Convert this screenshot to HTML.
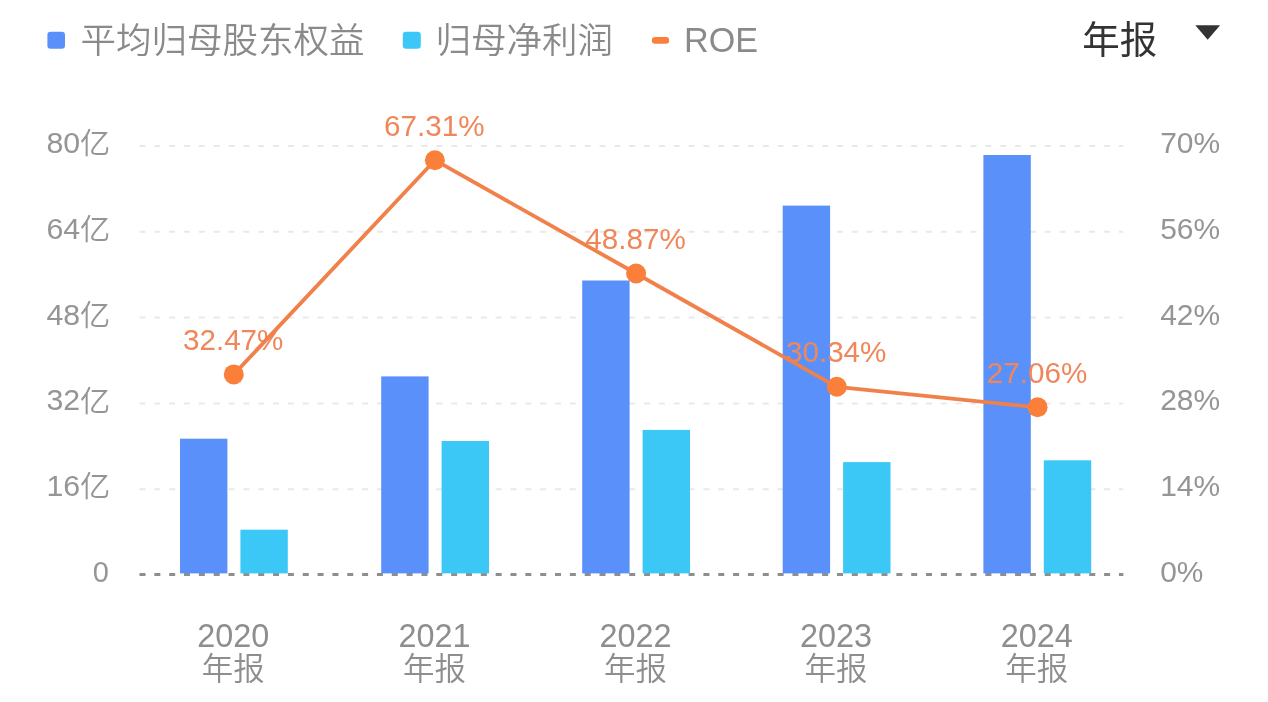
<!DOCTYPE html>
<html lang="zh-CN">
<head>
<meta charset="utf-8">
<title>ROE</title>
<style>
html,body{margin:0;padding:0;background:#fff;}
body{width:1268px;height:702px;overflow:hidden;font-family:"Liberation Sans","Noto Sans CJK SC",sans-serif;}
svg{display:block;}
text{font-family:"Liberation Sans","Noto Sans CJK SC",sans-serif;}
.lg{font-size:35.5px;fill:#8a8a8a;font-weight:350;}
.ax{font-size:29px;fill:#959595;font-weight:350;}
.yi{font-size:29px;}
.xl{font-size:32.4px;fill:#8e8e8e;font-weight:350;}
.vl{font-size:29px;fill:#f0875a;}
.sel{font-size:37.5px;fill:#333;font-weight:400;}
</style>
</head>
<body>
<svg width="1268" height="702" viewBox="0 0 1268 702">
<rect x="0" y="0" width="1268" height="702" fill="#ffffff"/>

<rect x="47.4" y="31.8" width="17.6" height="17" rx="3.2" fill="#5a90fa"/>
<text class="lg" x="80.5" y="52.5">平均归母股东权益</text>
<rect x="402.8" y="31.8" width="18" height="17" rx="3.2" fill="#3cc8f7"/>
<text class="lg" x="435.5" y="52.5">归母净利润</text>
<rect x="651.8" y="37.1" width="17.4" height="6.6" rx="3.3" fill="#fa7f3b"/>
<text class="lg" x="684" y="52.3" style="font-size:35px" textLength="74" lengthAdjust="spacingAndGlyphs">ROE</text>
<text class="sel" x="1082.2" y="52.5">年报</text>
<path d="M1195.3 25.2 L1220.1 25.2 L1207.7 39.7 Z" fill="#333"/>
<line x1="139.5" y1="146.0" x2="1123.2" y2="146.0" stroke="#e9e9e9" stroke-width="2" stroke-dasharray="6 8.84"/>
<line x1="139.5" y1="231.8" x2="1123.2" y2="231.8" stroke="#e9e9e9" stroke-width="2" stroke-dasharray="6 8.84"/>
<line x1="139.5" y1="317.6" x2="1123.2" y2="317.6" stroke="#e9e9e9" stroke-width="2" stroke-dasharray="6 8.84"/>
<line x1="139.5" y1="403.4" x2="1123.2" y2="403.4" stroke="#e9e9e9" stroke-width="2" stroke-dasharray="6 8.84"/>
<line x1="139.5" y1="489.2" x2="1123.2" y2="489.2" stroke="#e9e9e9" stroke-width="2" stroke-dasharray="6 8.84"/>
<text class="ax" x="110.4" y="153.0" text-anchor="end" textLength="64" lengthAdjust="spacingAndGlyphs">80<tspan class="yi" dy="1.2">亿</tspan></text>
<text class="ax" x="1160.2" y="153.0" textLength="60" lengthAdjust="spacingAndGlyphs">70%</text>
<text class="ax" x="110.4" y="238.8" text-anchor="end" textLength="64" lengthAdjust="spacingAndGlyphs">64<tspan class="yi" dy="1.2">亿</tspan></text>
<text class="ax" x="1160.2" y="238.8" textLength="60" lengthAdjust="spacingAndGlyphs">56%</text>
<text class="ax" x="110.4" y="324.6" text-anchor="end" textLength="64" lengthAdjust="spacingAndGlyphs">48<tspan class="yi" dy="1.2">亿</tspan></text>
<text class="ax" x="1160.2" y="324.6" textLength="60" lengthAdjust="spacingAndGlyphs">42%</text>
<text class="ax" x="110.4" y="410.4" text-anchor="end" textLength="64" lengthAdjust="spacingAndGlyphs">32<tspan class="yi" dy="1.2">亿</tspan></text>
<text class="ax" x="1160.2" y="410.4" textLength="60" lengthAdjust="spacingAndGlyphs">28%</text>
<text class="ax" x="110.4" y="496.2" text-anchor="end" textLength="64" lengthAdjust="spacingAndGlyphs">16<tspan class="yi" dy="1.2">亿</tspan></text>
<text class="ax" x="1160.2" y="496.2" textLength="60" lengthAdjust="spacingAndGlyphs">14%</text>
<text class="ax" x="109" y="582.2" text-anchor="end">0</text>
<text class="ax" x="1160.2" y="582.0" textLength="43.2" lengthAdjust="spacingAndGlyphs">0%</text>
<line x1="139.5" y1="574.6" x2="1123.4" y2="574.6" stroke="#8e8e8e" stroke-width="3" stroke-dasharray="6 8.84"/>
<rect x="180.0" y="438.7" width="47.4" height="134.7" fill="#5a90fa"/>
<rect x="240.4" y="529.7" width="47.4" height="43.7" fill="#3cc8f7"/>
<rect x="381.2" y="376.4" width="47.4" height="197.0" fill="#5a90fa"/>
<rect x="441.6" y="441.0" width="47.4" height="132.4" fill="#3cc8f7"/>
<rect x="582.2" y="280.5" width="47.4" height="292.9" fill="#5a90fa"/>
<rect x="642.6" y="429.9" width="47.4" height="143.5" fill="#3cc8f7"/>
<rect x="782.7" y="205.6" width="47.4" height="367.8" fill="#5a90fa"/>
<rect x="843.1" y="462.1" width="47.4" height="111.3" fill="#3cc8f7"/>
<rect x="983.4" y="155.0" width="47.4" height="418.4" fill="#5a90fa"/>
<rect x="1043.8" y="460.3" width="47.4" height="113.1" fill="#3cc8f7"/>
<text class="vl" x="233.2" y="350.0" text-anchor="middle" textLength="100.5" lengthAdjust="spacingAndGlyphs">32.47%</text>
<text class="vl" x="434.3" y="135.8" text-anchor="middle" textLength="100.5" lengthAdjust="spacingAndGlyphs">67.31%</text>
<text class="vl" x="635.5" y="249.1" text-anchor="middle" textLength="100.5" lengthAdjust="spacingAndGlyphs">48.87%</text>
<text class="vl" x="836.2" y="362.4" text-anchor="middle" textLength="100.5" lengthAdjust="spacingAndGlyphs">30.34%</text>
<text class="vl" x="1037.0" y="382.9" text-anchor="middle" textLength="100.5" lengthAdjust="spacingAndGlyphs">27.06%</text>
<path d="M233.8 374.4 L434.9 160.2 L636.1 273.5 L836.8 386.8 L1037.6 407.3" fill="none" stroke="#f0814a" stroke-width="3.8" stroke-linejoin="round" stroke-linecap="round"/>
<circle cx="233.8" cy="374.4" r="10" fill="#fa7f3b"/>
<circle cx="434.9" cy="160.2" r="10" fill="#fa7f3b"/>
<circle cx="636.1" cy="273.5" r="10" fill="#fa7f3b"/>
<circle cx="836.8" cy="386.8" r="10" fill="#fa7f3b"/>
<circle cx="1037.6" cy="407.3" r="10" fill="#fa7f3b"/>
<text class="xl" text-anchor="middle" x="233.3" y="647">2020</text>
<text class="xl" text-anchor="middle" x="233.3" y="679.5" style="font-size:31.5px">年报</text>
<text class="xl" text-anchor="middle" x="434.5" y="647">2021</text>
<text class="xl" text-anchor="middle" x="434.5" y="679.5" style="font-size:31.5px">年报</text>
<text class="xl" text-anchor="middle" x="635.5" y="647">2022</text>
<text class="xl" text-anchor="middle" x="635.5" y="679.5" style="font-size:31.5px">年报</text>
<text class="xl" text-anchor="middle" x="836.0" y="647">2023</text>
<text class="xl" text-anchor="middle" x="836.0" y="679.5" style="font-size:31.5px">年报</text>
<text class="xl" text-anchor="middle" x="1036.7" y="647">2024</text>
<text class="xl" text-anchor="middle" x="1036.7" y="679.5" style="font-size:31.5px">年报</text>
</svg>
</body>
</html>
